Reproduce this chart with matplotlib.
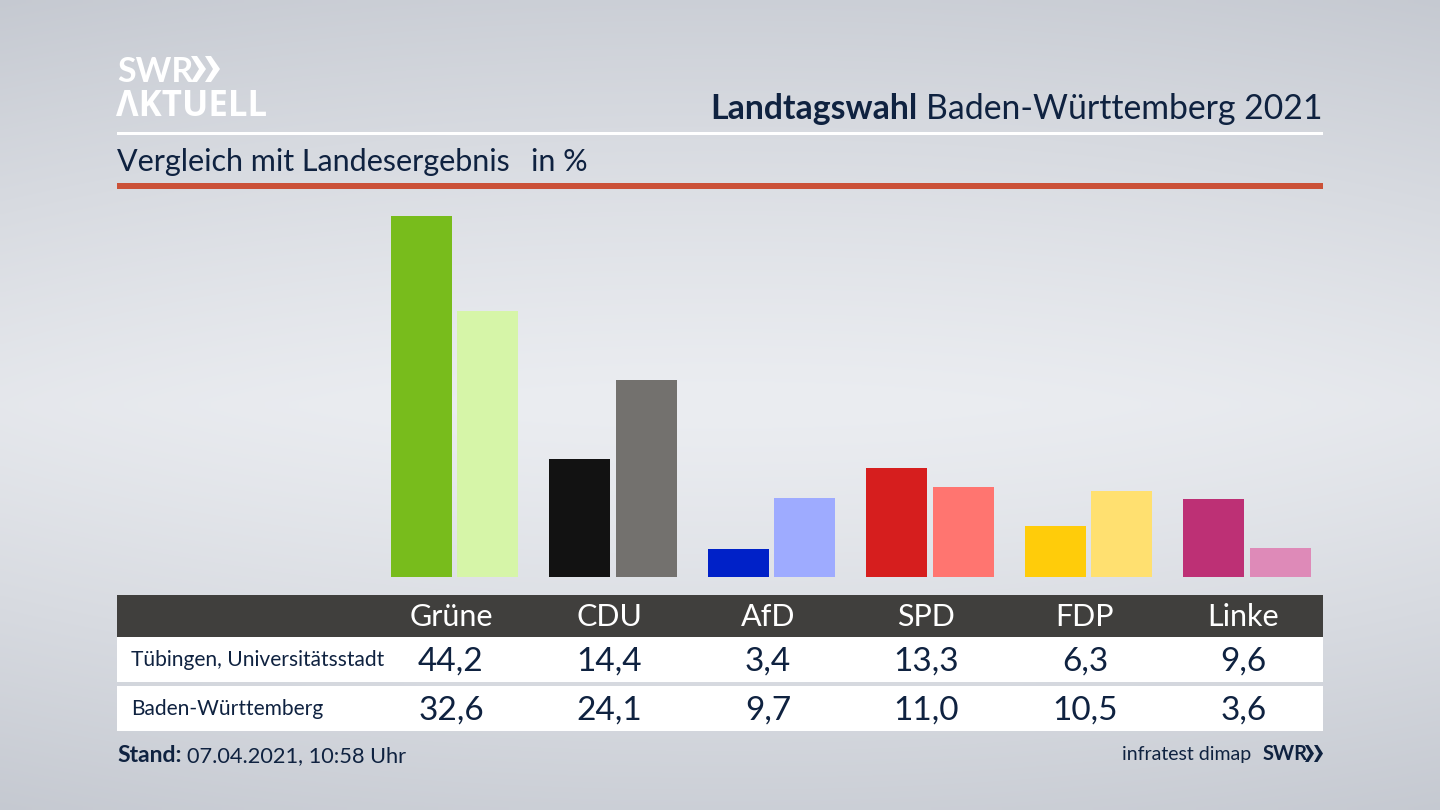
import numpy as np
import matplotlib
matplotlib.use("Agg")
import matplotlib.pyplot as plt
from matplotlib.patches import Rectangle, Polygon

parties = ["Grüne", "CDU", "AfD", "SPD", "FDP", "Linke"]
local_values = [44.2, 14.4, 3.4, 13.3, 6.3, 9.6]
state_values = [32.6, 24.1, 9.7, 11.0, 10.5, 3.6]
local_colors = ["#78bc1c", "#121212", "#0021c8", "#d61e1e", "#ffcc0a", "#bd3075"]
state_colors = ["#d6f5a8", "#73716e", "#9eabff", "#ff7570", "#ffe070", "#de8ab8"]
local_label = "Tübingen, Universitätsstadt"
state_label = "Baden-Württemberg"

NAVY = "#0f2240"
FONT = "Lato"
plt.rcParams["font.family"] = [FONT, "DejaVu Sans"]

fig = plt.figure(figsize=(14.4, 8.1), dpi=100)

# pixel-space canvas for background and decorations
bg = fig.add_axes([0, 0, 1, 1], zorder=0)
bg.set_xlim(0, 1440)
bg.set_ylim(810, 0)
bg.axis("off")
yy, xx = np.mgrid[0:1:162j, 0:1:288j]
v = np.abs(yy - 0.5) * 2
h = np.abs(xx - 0.5) * 2
shade = 1 - 0.80 * v ** 1.2 - 0.16 * h ** 2.2
low = np.array([196, 200, 208]) / 255
high = np.array([235, 237, 241]) / 255
img = low + (high - low) * np.clip(shade, 0, 1)[..., None]
bg.imshow(img, extent=(0, 1440, 810, 0), aspect="auto", interpolation="bilinear")
bg.set_xlim(0, 1440)
bg.set_ylim(810, 0)

# header
bg.add_patch(Rectangle((117, 132), 1206, 3, color="white", lw=0))
bg.add_patch(Rectangle((117, 183), 1206, 6, color="#cb5138", lw=0))
t2 = bg.text(1323, 119, "Baden-Württemberg 2021", ha="right", va="baseline",
             fontsize=24.3, color=NAVY)
fig.canvas.draw()
bb = t2.get_window_extent()
bg.text(bb.x0 - 9, 119, "Landtagswahl", ha="right", va="baseline",
        fontsize=24.3, fontweight="bold", color=NAVY)
bg.text(117, 171, "Vergleich mit Landesergebnis", ha="left", va="baseline",
        fontsize=22, color=NAVY)
bg.text(531, 171, "in %", ha="left", va="baseline", fontsize=22, color=NAVY)

# logo
bg.text(117, 82, "SWR", ha="left", va="baseline", fontsize=24.5, fontweight="bold", color="white")
bg.text(116, 116, "ΛKTUELL", ha="left", va="baseline", fontsize=25, fontweight="bold", color="white",
        family=["Open Sans", "DejaVu Sans"])
for x0 in (191, 205):
    bg.add_patch(Polygon([(x0, 56), (x0 + 6, 56), (x0 + 15, 69), (x0 + 6, 82), (x0, 82), (x0 + 8, 69)],
                         color="white", lw=0))
for x0 in (1305, 1314):
    bg.add_patch(Polygon([(x0, 745), (x0 + 3.5, 745), (x0 + 9, 753.5), (x0 + 3.5, 762), (x0, 762), (x0 + 5, 753.5)],
                         color=NAVY, lw=0))

# table rows
bg.add_patch(Rectangle((117, 595), 1206, 42, color="#403f3d", lw=0))
bg.add_patch(Rectangle((117, 637), 1206, 45, color="white", lw=0))
bg.add_patch(Rectangle((117, 686), 1206, 45, color="white", lw=0))
bg.text(131, 666, local_label, ha="left", va="baseline", fontsize=15.1, color=NAVY)
bg.text(131, 715, state_label, ha="left", va="baseline", fontsize=15.1, color=NAVY)

# bars
ax = fig.add_axes([0, (810 - 577) / 810, 1, (577 - 205) / 810], zorder=1)
ax.patch.set_alpha(0)
step = 158.5
first = 454.5
ax.set_xlim(-first / step, (1440 - first) / step)
ax.set_ylim(0, (577 - 205) / 8.17)
ax.axis("off")
pos = np.arange(len(parties))
bar_w = 61 / step
off = 33.2 / step
ax.bar(pos - off, local_values, width=bar_w, color=local_colors, lw=0)
ax.bar(pos + off, state_values, width=bar_w, color=state_colors, lw=0)

# table values aligned with the bar groups
for i, party in enumerate(parties):
    x = first - 3.5 + step * i
    bg.text(x, 626, party, ha="center", va="baseline", fontsize=22, color="white")
    bg.text(x, 671, f"{local_values[i]:.1f}".replace(".", ","), ha="center", va="baseline",
            fontsize=24, color=NAVY)
    bg.text(x, 720, f"{state_values[i]:.1f}".replace(".", ","), ha="center", va="baseline",
            fontsize=24, color=NAVY)

# footer
bg.text(117, 762, "Stand:", ha="left", va="baseline", fontsize=16.5, fontweight="bold", color=NAVY)
bg.text(187, 762, "07.04.2021, 10:58 Uhr", ha="left", va="baseline", fontsize=15.7, color=NAVY)
bg.text(1251, 760, "infratest dimap", ha="right", va="baseline", fontsize=14, color=NAVY)
bg.text(1263, 760, "SWR", ha="left", va="baseline", fontsize=14.5, fontweight="bold", color=NAVY)

fig.savefig("out.png", dpi=100)
